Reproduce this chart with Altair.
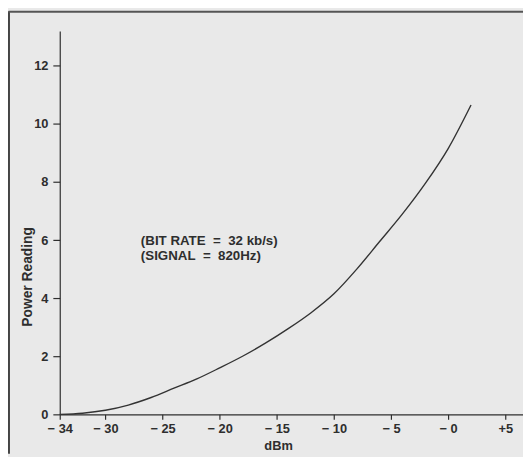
import altair as alt
import pandas as pd

# Curve
dbm = [-34, -32, -30, -28, -26, -24, -22, -20, -18, -16, -14, -12, -10, -8, -6, -4, -2, 0, 2]
power = [0, 0.04, 0.14, 0.32, 0.58, 0.9, 1.22, 1.6, 2.0, 2.45, 2.95, 3.5, 4.15, 5.0, 5.95, 6.9, 7.95, 9.15, 10.65]

# Axis ticks
x_ticks = [-34, -30, -25, -20, -15, -10, -5, 0, 5]
x_tick_labels = ["\u2212 34", "\u2212 30", "\u2212 25", "\u2212 20", "\u2212 15", "\u2212 10", "\u2212 5", "\u2212 0", "+5"]
y_ticks = [0, 2, 4, 6, 8, 10, 12]

# Annotation (non-breaking spaces keep the wide spacing)
note_lines = ["(BIT RATE\u00a0\u00a0=\u00a0\u00a032 kb/s)", "(SIGNAL\u00a0\u00a0=\u00a0\u00a0820Hz)"]
note_x = [-26.9, -26.9]
note_y = [5.95, 5.45]

df = pd.DataFrame({"dBm": dbm, "power": power})
notes = pd.DataFrame({"text": note_lines, "x": note_x, "y": note_y})

label_expr = " : ".join(
    f"datum.value == {v} ? '{l}'" for v, l in zip(x_ticks, x_tick_labels)
) + " : ''"

FONT = "Liberation Sans"
INK = "#2e2e2e"

xscale = alt.Scale(domain=[-34, 6.55], nice=False, zero=False)
yscale = alt.Scale(domain=[0, 13.2], nice=False)

curve = alt.Chart(df).mark_line(
    interpolate="monotone", color="#333333", strokeWidth=1.4
).encode(
    x=alt.X("dBm:Q", scale=xscale, axis=alt.Axis(
        values=x_ticks, labelExpr=label_expr, title="dBm",
        titleX=221.5, titleY=32, titleBaseline="middle", titleAlign="center",
        tickSize=5, labelPadding=3, labelFlush=False, labelOverlap=False,
    )),
    y=alt.Y("power:Q", scale=yscale, axis=alt.Axis(
        values=y_ticks, title="Power Reading", tickSize=7, labelPadding=5,
        titleX=-33, titleY=249, titleAngle=270, titleAlign="center",
        titleBaseline="middle", titleFontSize=14,
    )),
)

text = alt.Chart(notes).mark_text(
    align="left", baseline="middle", font=FONT, fontSize=13.5,
    fontWeight="bold", color=INK,
).encode(
    x=alt.X("x:Q", scale=xscale),
    y=alt.Y("y:Q", scale=yscale),
    text="text:N",
)

frame_data = alt.Data(values=[{"k": 1}])
left_frame = alt.Chart(frame_data).mark_rule(color="#444444", strokeWidth=2).encode(
    x=alt.value(-51.5), y=alt.value(-20), y2=alt.value(429)
)
top_frame = alt.Chart(frame_data).mark_rule(color="#555555", strokeWidth=2).encode(
    x=alt.value(-52), x2=alt.value(480), y=alt.value(-19.5)
)

chart = alt.layer(curve, text, left_frame, top_frame).properties(
    width=470, height=389,
    autosize=alt.AutoSizeParams(type="none"),
    padding={"left": 52.5, "top": 20, "right": 0, "bottom": 40},
    background="#e9e9e9",
).configure_view(stroke=None).configure_axis(
    grid=False, domainColor=INK, tickColor=INK, labelColor=INK, titleColor=INK,
    labelFont=FONT, titleFont=FONT, labelFontSize=13, titleFontSize=13,
    labelFontWeight="bold", titleFontWeight="bold", domainWidth=1.2, tickWidth=1.2,
)

chart.save("out.html", embed_options={"renderer": "svg", "actions": False})
